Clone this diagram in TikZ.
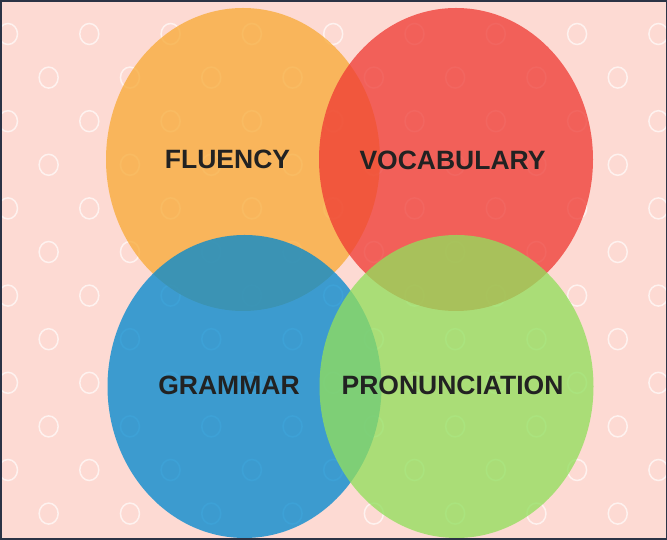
\documentclass[tikz,border=0pt]{standalone}
\usepackage{fontspec}
\setmainfont{Liberation Sans}
\usetikzlibrary{shapes.geometric}
\definecolor{bgpink}{RGB}{253,218,211}
\definecolor{framenavy}{RGB}{44,51,69}
\definecolor{fluorange}{RGB}{248,171,56}
\definecolor{vocred}{RGB}{239,60,53}
\definecolor{grablue}{RGB}{3,137,207}
\definecolor{progreen}{RGB}{146,223,92}
\definecolor{wordgray}{RGB}{34,34,34}
\begin{document}
\begin{tikzpicture}[x=1pt,y=1pt,
	area/.style={ellipse, minimum width=274pt, minimum height=303pt, inner sep=0pt, fill opacity=0.77},
	word/.style={font=\bfseries\fontsize{26.5}{30}\selectfont, text=wordgray, inner sep=0pt}]
	\useasboundingbox (0,0) rectangle (667,540);
	\fill[bgpink] (0,0) rectangle (667,540);
	% background dots
	\begin{scope}
		\clip (0,0) rectangle (667,540);
		\foreach \j in {0,...,11}
			\foreach \i in {0,...,8}
				\draw[white, draw opacity=0.65, line width=1.5pt] ({8+81.3*\i+40.65*mod(\j,2)}, {506-43.6*\j}) circle [x radius=9.5pt, y radius=10.5pt];
	\end{scope}
	\node (fluency) at (243,380.5)	[area, fill = fluorange]	{};
	\node (vocab)   at (456,380.5)	[area, fill = vocred]		{};
	\node (grammar) at (244.5,153.5)	[area, fill = grablue]		{};
	\node (pronun)  at (456.5,153.5)	[area, fill = progreen]	{};
	\node (fluencyT) at (227.5,381)	[word]	{FLUENCY};
	\node (vocabT)   at (452.5,380)	[word]	{VOCABULARY};
	\node (grammarT) at (229,155)	[word]	{GRAMMAR};
	\node (pronunT)  at (452.5,155)	[word]	{PRONUNCIATION};
	\draw[framenavy, line width=1.5pt] (0.75,0.75) rectangle (666.25,539.25);
	\draw[framenavy, line width=2.5pt] (0,538.75) -- (667,538.75);
\end{tikzpicture}
\end{document}
